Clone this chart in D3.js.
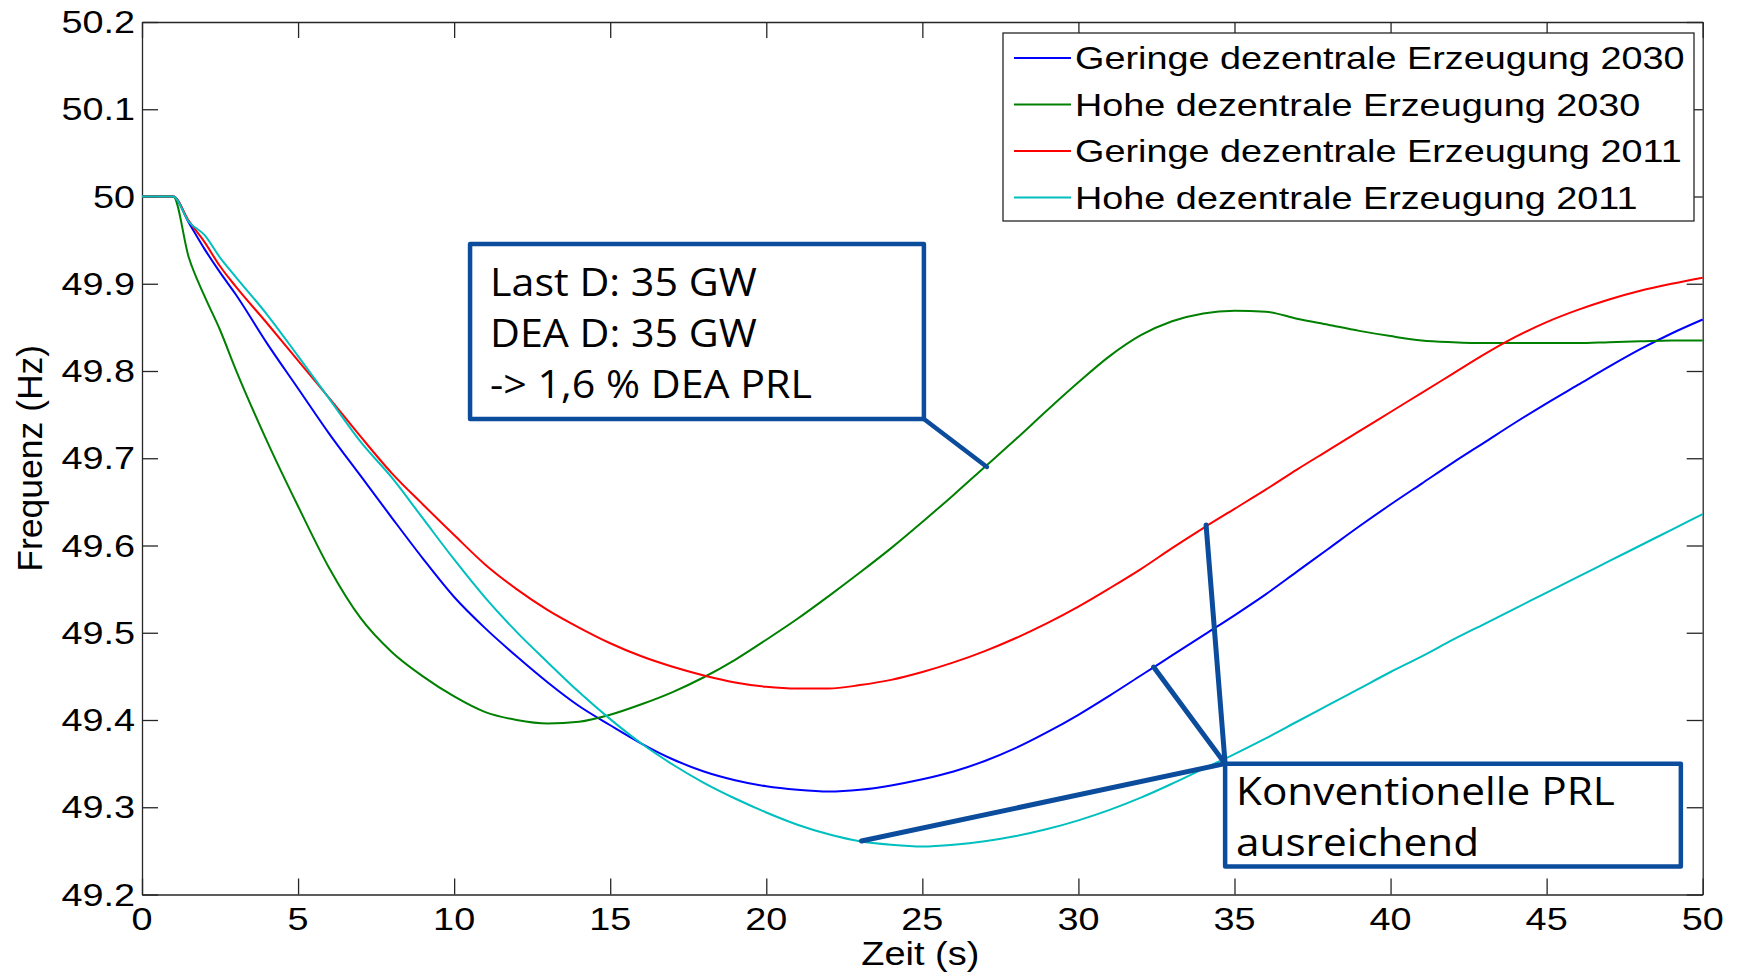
<!DOCTYPE html>
<html>
<head>
<meta charset="utf-8">
<script src="https://cdn.jsdelivr.net/npm/d3@7"></script>
<style>
  html, body { margin: 0; padding: 0; background: #fff; }
  svg { display: block; }
</style>
</head>
<body>
<svg id="chart" width="1738" height="974"></svg>
<script>
// ---------------- data ----------------
const time = [0, 1, 1.5, 2, 2.5, 3, 4, 5, 6, 7, 8, 9, 10, 11, 12, 13, 14, 15, 16, 17, 18, 19, 20,
  21, 22, 23, 24, 25, 26, 27, 28, 29, 30, 31, 32, 33, 34, 35, 36, 37, 38, 39, 40,
  41, 42, 43, 44, 45, 46, 47, 48, 49, 50];

const geringe2030 = [50, 50, 49.97, 49.94, 49.913, 49.888, 49.832, 49.78, 49.728, 49.68, 49.632, 49.585, 49.541,
  49.505, 49.473, 49.443, 49.416, 49.394, 49.373, 49.355, 49.341, 49.331, 49.324,
  49.32, 49.318, 49.32, 49.325, 49.332, 49.341, 49.353, 49.368, 49.386, 49.406,
  49.428, 49.451, 49.474, 49.497, 49.52, 49.544, 49.57, 49.596, 49.622, 49.647,
  49.671, 49.695, 49.718, 49.741, 49.763, 49.784, 49.805, 49.825, 49.843, 49.859];

const hohe2030 = [50, 50, 49.93, 49.886, 49.847, 49.802, 49.72, 49.645, 49.574, 49.517, 49.478, 49.45, 49.427,
  49.409, 49.4, 49.396, 49.398, 49.406, 49.418, 49.432, 49.449, 49.469, 49.492,
  49.516, 49.542, 49.569, 49.597, 49.627, 49.658, 49.69, 49.722, 49.755, 49.787,
  49.817, 49.841, 49.857, 49.866, 49.869, 49.868, 49.86, 49.853, 49.846, 49.84,
  49.835, 49.833, 49.832, 49.832, 49.832, 49.832, 49.833, 49.834, 49.835, 49.835];

const geringe2011 = [50, 50, 49.972, 49.948, 49.92, 49.897, 49.855, 49.812, 49.769, 49.725, 49.683, 49.647, 49.612,
  49.578, 49.55, 49.526, 49.506, 49.488, 49.473, 49.461, 49.451, 49.443, 49.438,
  49.436, 49.436, 49.44, 49.446, 49.455, 49.466, 49.479, 49.494, 49.511, 49.53,
  49.551, 49.573, 49.597, 49.62, 49.642, 49.664, 49.687, 49.709, 49.731, 49.753,
  49.775, 49.797, 49.819, 49.839, 49.856, 49.87, 49.882, 49.892, 49.9, 49.907];

const hohe2011 = [50, 50, 49.971, 49.956, 49.93, 49.908, 49.865, 49.817, 49.768, 49.719, 49.678, 49.631, 49.584,
  49.54, 49.501, 49.466, 49.432, 49.401, 49.373, 49.349, 49.328, 49.31, 49.294,
  49.28, 49.269, 49.261, 49.257, 49.255, 49.257, 49.261, 49.267, 49.275, 49.285,
  49.297, 49.311, 49.327, 49.344, 49.361, 49.379, 49.398, 49.417, 49.436, 49.455,
  49.473, 49.492, 49.51, 49.528, 49.546, 49.564, 49.582, 49.6, 49.618, 49.636];

const seriesNames = ["Geringe dezentrale Erzeugung 2030", "Hohe dezentrale Erzeugung 2030",
  "Geringe dezentrale Erzeugung 2011", "Hohe dezentrale Erzeugung 2011"];
const seriesValues = [geringe2030, hohe2030, geringe2011, hohe2011];
const seriesColors = ["#0000ff", "#008000", "#ff0000", "#00bfbf"];

const xTicks = [0, 5, 10, 15, 20, 25, 30, 35, 40, 45, 50];
const xTickLabels = ["0", "5", "10", "15", "20", "25", "30", "35", "40", "45", "50"];
const yTicks = [49.2, 49.3, 49.4, 49.5, 49.6, 49.7, 49.8, 49.9, 50.0, 50.1, 50.2];
const yTickLabels = ["49.2", "49.3", "49.4", "49.5", "49.6", "49.7", "49.8", "49.9", "50", "50.1", "50.2"];

const xLabel = "Zeit (s)";
const yLabel = "Frequenz (Hz)";

// annotations (data coordinates)
const note1Lines = ["Last D: 35 GW", "DEA D: 35 GW", "-> 1,6 % DEA PRL"];
const note1Box = [10.51, 49.9456, 25.05, 49.745];      // x1, yTop, x2, yBottom
const note1Pointer = [[25.05, 49.745], [27.07, 49.690]];
const note2Lines = ["Konventionelle PRL", "ausreichend"];
const note2Box = [34.70, 49.350, 49.30, 49.232];
const note2Hub = [34.70, 49.350];
const note2Targets = [[34.09, 49.6235], [32.41, 49.4607], [23.05, 49.2613]];

// ---------------- layout ----------------
const W = 1738, H = 974;
const plot = { left: 142, right: 1702.7, top: 22, bottom: 894.5 };
const svg = d3.select("#chart");
svg.append("rect").attr("width", W).attr("height", H).attr("fill", "#fff");

const x = d3.scaleLinear().domain([0, 50]).range([plot.left, plot.right]);
const y = d3.scaleLinear().domain([49.2, 50.2]).range([plot.bottom, plot.top]);

const axisColor = "#262626";
const mFont = "'Liberation Sans', Arial, Helvetica, sans-serif";
const aFont = "'Open Sans', 'Noto Sans', sans-serif";
const annColor = "#0b4c9c";

function stretchedText(parent, px, py, str, size, sx, anchor, family) {
  return parent.append("text")
    .attr("transform", `translate(${px},${py}) scale(${sx},1)`)
    .attr("text-anchor", anchor)
    .attr("font-family", family || mFont)
    .attr("font-size", size)
    .attr("fill", "#000")
    .text(str);
}

// axes (box with inward ticks on all four sides)
const tickLen = 16;
function styleAxis(g) {
  g.selectAll("path.domain").attr("stroke", axisColor).attr("stroke-width", 1.3);
  g.selectAll(".tick line").attr("stroke", axisColor).attr("stroke-width", 1.3);
  g.selectAll(".tick text").remove();
}
svg.append("g").attr("transform", `translate(0,${plot.bottom})`)
  .call(d3.axisBottom(x).tickValues(xTicks).tickSize(-tickLen).tickSizeOuter(0)).call(styleAxis);
svg.append("g").attr("transform", `translate(0,${plot.top})`)
  .call(d3.axisTop(x).tickValues(xTicks).tickSize(-tickLen).tickSizeOuter(0)).call(styleAxis);
svg.append("g").attr("transform", `translate(${plot.left},0)`)
  .call(d3.axisLeft(y).tickValues(yTicks).tickSize(-tickLen).tickSizeOuter(0)).call(styleAxis);
svg.append("g").attr("transform", `translate(${plot.right},0)`)
  .call(d3.axisRight(y).tickValues(yTicks).tickSize(-tickLen).tickSizeOuter(0)).call(styleAxis);

// tick labels
const tickSize = 31, tickStretch = 1.22;
xTicks.forEach((v, i) => stretchedText(svg, x(v), 930, xTickLabels[i], tickSize, tickStretch, "middle"));
yTicks.forEach((v, i) => stretchedText(svg, 135, y(v) + 11, yTickLabels[i], tickSize, tickStretch, "end"));

// axis labels
stretchedText(svg, (plot.left + plot.right) / 2 - 2, 965, xLabel, 33, 1.15, "middle");
svg.append("text")
  .attr("transform", `translate(42,${(plot.top + plot.bottom) / 2}) rotate(-90)`)
  .attr("text-anchor", "middle")
  .attr("font-family", mFont)
  .attr("font-size", 35.5)
  .attr("fill", "#000")
  .text(yLabel);

// lines
const line = d3.line().x(d => x(d[0])).y(d => y(d[1])).curve(d3.curveMonotoneX);
seriesValues.forEach((vals, i) => {
  svg.append("path")
    .datum(time.map((t, j) => [t, vals[j]]))
    .attr("d", line)
    .attr("fill", "none")
    .attr("stroke", seriesColors[i])
    .attr("stroke-width", 2)
    .attr("stroke-linejoin", "round");
});

// legend
const leg = { x1: 1003, y1: 33, x2: 1694, y2: 221 };
svg.append("rect")
  .attr("x", leg.x1).attr("y", leg.y1)
  .attr("width", leg.x2 - leg.x1).attr("height", leg.y2 - leg.y1)
  .attr("fill", "#fff").attr("stroke", axisColor).attr("stroke-width", 1.3);
const legRows = [58, 104.5, 151, 197.5];
seriesNames.forEach((name, i) => {
  svg.append("line")
    .attr("x1", 1014).attr("x2", 1071)
    .attr("y1", legRows[i]).attr("y2", legRows[i])
    .attr("stroke", seriesColors[i]).attr("stroke-width", 2);
  stretchedText(svg, 1075, legRows[i] + 11, name, tickSize, tickStretch, "start");
});

// annotation boxes
function annBox(box, lines, textX, baselines, size) {
  svg.append("rect")
    .attr("x", x(box[0])).attr("y", y(box[1]))
    .attr("width", x(box[2]) - x(box[0])).attr("height", y(box[3]) - y(box[1]))
    .attr("fill", "#fff").attr("stroke", annColor).attr("stroke-width", 4.5)
    .attr("stroke-linejoin", "round");
  lines.forEach((s, i) => stretchedText(svg, textX, baselines[i], s, size, 1.085, "start", aFont));
}
svg.append("line")
  .attr("x1", x(note1Pointer[0][0])).attr("y1", y(note1Pointer[0][1]))
  .attr("x2", x(note1Pointer[1][0])).attr("y2", y(note1Pointer[1][1]))
  .attr("stroke", annColor).attr("stroke-width", 4.5).attr("stroke-linecap", "round");
annBox(note1Box, note1Lines, 490, [296, 347, 398], 38);

note2Targets.forEach(tg => {
  svg.append("line")
    .attr("x1", x(note2Hub[0])).attr("y1", y(note2Hub[1]))
    .attr("x2", x(tg[0])).attr("y2", y(tg[1]))
    .attr("stroke", annColor).attr("stroke-width", 5).attr("stroke-linecap", "round");
});
annBox(note2Box, note2Lines, 1236, [805, 856], 39);
</script>
</body>
</html>
